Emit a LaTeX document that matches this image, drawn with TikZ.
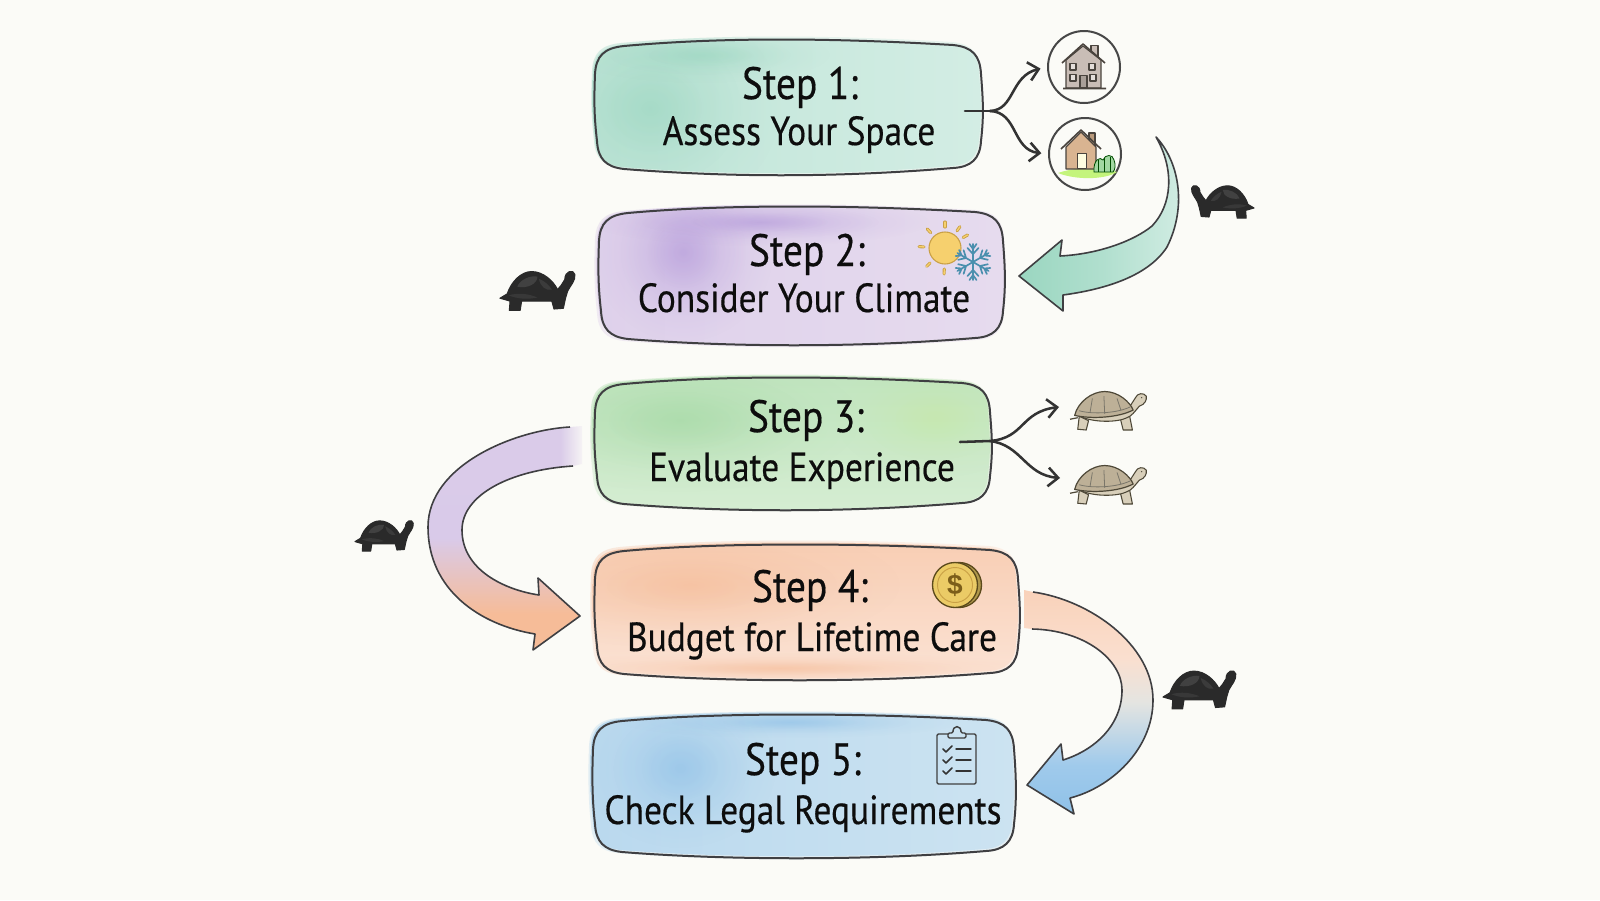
\documentclass[tikz,border=0pt]{standalone}
\usepackage{fontspec}
\usetikzlibrary{arrows.meta,fadings,calc}
\newfontfamily\handfont[FakeStretch=0.87,FakeBold=0.4]{PT Sans}
\definecolor{paper}{HTML}{FBFBF7}
\definecolor{inkline}{HTML}{3F3F42}
\definecolor{tealbase}{HTML}{D3EDE4}
\definecolor{tealdeep}{HTML}{9AD6C0}
\definecolor{plumbase}{HTML}{E6DBEE}
\definecolor{plumdeep}{HTML}{B297DA}
\definecolor{leafbase}{HTML}{D5EDD2}
\definecolor{leafdeep}{HTML}{A2D8A2}
\definecolor{limedeep}{HTML}{C6E8A8}
\definecolor{peachbase}{HTML}{FBE3D5}
\definecolor{peachdeep}{HTML}{F6BC98}
\definecolor{skybase}{HTML}{CCE3F1}
\definecolor{skydeep}{HTML}{8FC1E8}
\definecolor{shelldark}{HTML}{2A2A2A}
\definecolor{shellhi}{HTML}{4A4A4A}
\definecolor{shelltan}{HTML}{BDB097}
\definecolor{skintan}{HTML}{D8CFBA}
\definecolor{tanline}{HTML}{4E4838}
\definecolor{snowblue}{HTML}{4A8FAE}
\definecolor{sunfill}{HTML}{F6D06E}
\definecolor{sunedge}{HTML}{C9A045}
\definecolor{coinface}{HTML}{EBCB66}
\definecolor{coinedge}{HTML}{5B4A1C}
\definecolor{coinmark}{HTML}{7C5E1A}
\definecolor{wallgrey}{HTML}{C9BDB6}
\definecolor{wallbrown}{HTML}{D9B491}
\definecolor{iconink}{HTML}{4A443E}
\tikzfading[name=softblot,inner color=transparent!0,outer color=transparent!100]
% A soft patch of pigment: three nested radial washes around one centre
\newcommand{\pigment}[5]{%
  \fill[#1,opacity=.3,path fading=softblot] (#2,#3) ellipse ({2*#4} and {2*#5});
  \fill[#1,opacity=.3,path fading=softblot] (#2,#3) ellipse ({1.4*#4} and {1.4*#5});
  \fill[#1,opacity=.3,path fading=softblot] (#2,#3) ellipse ({.8*#4} and {.8*#5});
}
\pgfdeclareverticalshading{plumtopeach}{100bp}{
  color(0bp)=(peachdeep); color(25bp)=(peachdeep); color(33bp)=(peachdeep);
  color(50bp)=(plumbase!75!plumdeep); color(100bp)=(plumbase!80!plumdeep)}
\pgfdeclareverticalshading{peachtosky}{100bp}{
  color(0bp)=(skydeep); color(25bp)=(skydeep); color(36bp)=(skydeep!85!white);
  color(50bp)=(black!9!paper); color(60bp)=(peachbase!90!peachdeep);
  color(75bp)=(peachdeep!45!peachbase); color(100bp)=(peachdeep)}
\tikzset{
  wobble/.style n args={4}{insert path={
    ({#1+30},{#2+6}) .. controls ({#1+130},{#2-3}) and ({#3-150},{#2-2}) .. ({#3-30},{#2+5})
    .. controls ({#3-10},{#2+7}) and ({#3-3},{#2+16}) .. ({#3-2},{#2+34})
    .. controls ({#3},{#2+60}) and ({#3+1},{#4-60}) .. ({#3-2},{#4-34})
    .. controls ({#3-3},{#4-16}) and ({#3-12},{#4-8}) .. ({#3-30},{#4-7})
    .. controls ({#3-150},{#4+3}) and ({#1+130},{#4+2}) .. ({#1+30},{#4-6})
    .. controls ({#1+12},{#4-8}) and ({#1+4},{#4-16}) .. ({#1+3},{#4-34})
    .. controls ({#1},{#4-60}) and ({#1},{#2+60}) .. ({#1+1},{#2+34})
    .. controls ({#1+2},{#2+16}) and ({#1+10},{#2+8}) .. ({#1+30},{#2+6}) -- cycle}},
  cardline/.style={draw=inkline,line width=1.5pt,line join=round},
  bigline/.style={draw=inkline,line width=1.2pt,line join=round},
  thinarrow/.style={draw=black!80,line width=1.9pt,line cap=round,
    -{Straight Barb[length=7.5pt,width=14pt,line width=1.9pt]}},
  thinstem/.style={draw=black!80,line width=1.9pt,line cap=round},
  titletext/.style={anchor=base,font=\handfont\fontsize{34}{34}\selectfont,text=black!95},
  subtext/.style={anchor=base,font=\handfont\fontsize{30.5}{30}\selectfont,text=black!95},
  iconring/.style={circle,draw=black!72,line width=1.5pt,inner sep=0pt,minimum size=54pt},
  iconline/.style={draw=iconink,line width=.9pt,line join=round},
  snowline/.style={draw=snowblue,line width=1.25pt,line cap=round},
  darktortoise/.pic={
    \filldraw[shelldark,line width=.8pt,line join=round]
      (-50,10) -- (-40,4) .. controls (-34,-14) and (-20,-27) .. (-6,-27)
      .. controls (10,-27) and (24,-14) .. (30,-2) -- (35,-8) -- (40,-16)
      .. controls (40,-28) and (52,-31) .. (54,-23) .. controls (55,-14) and (48,-8) .. (44,0)
      -- (41,10) -- (38,24) -- (25,25) -- (22,14) -- (-20,14) -- (-22,27) -- (-37,27) -- (-36,14) -- cycle;
    \fill[shellhi,opacity=.75] (-26,-6) .. controls (-22,-16) and (-8,-22) .. (2,-20)
      .. controls (2,-10) and (-12,-3) .. (-26,-6) -- cycle;
    \fill[shellhi,opacity=.55] (4,-17) .. controls (12,-14) and (18,-8) .. (22,-2) .. controls (14,0) and (6,-6) .. (4,-17) -- cycle;
    \fill[shellhi,opacity=.45] (-38,6) .. controls (-24,2) and (-10,4) .. (2,9) .. controls (-12,12) and (-26,11) .. (-38,6) -- cycle;
  },
  tantortoise/.pic={
    \draw[tanline,line width=.9pt] (-38,10) -- (-48,12);
    \filldraw[fill=skintan,draw=tanline,line width=.8pt,line join=round] (-36,8) -- (-38,25) -- (-27,26) -- (-24,14) -- cycle;
    \filldraw[fill=skintan,draw=tanline,line width=.8pt,line join=round] (17,10) -- (21,26) -- (33,26) -- (29,6) -- cycle;
    \filldraw[fill=skintan,draw=tanline,line width=.8pt,line join=round] (-36,8) .. controls (-16,17) and (14,16) .. (26,10)
      .. controls (32,8) and (36,2) .. (42,-5) .. controls (49,-7) and (52,-13) .. (51,-18)
      .. controls (48,-23) and (39,-22) .. (37,-16) -- (28,-2) -- cycle;
    \filldraw[fill=shelltan,draw=tanline,line width=.9pt,line join=round] (-42,7) .. controls (-38,-10) and (-20,-24) .. (-3,-24)
      .. controls (15,-24) and (30,-10) .. (34,0) .. controls (15,10) and (-20,12) .. (-42,7) -- cycle;
    \draw[tanline!75,line width=.6pt] (-36,1) .. controls (-18,6) and (14,4) .. (30,-4)
      (-19,-15) -- (-22,3) (-4,-18) -- (-3,5) (13,-15) -- (18,0);
    \fill[tanline] (45,-16) circle (.9);
  }
}
\begin{document}
\begin{tikzpicture}[x=.75pt,y=-.75pt]
\useasboundingbox (0,0) rectangle (1600,900);
\fill[paper] (0,0) rectangle (1600,900);

% Step 1 card
\fill[tealbase,opacity=.5,wobble={591}{37}{982}{174}];
\shade[left color=tealdeep!35!tealbase,right color=tealbase,wobble={592}{39}{981}{173}];
\begin{scope}
  \clip[wobble={591}{37}{982}{174}];
  \pigment{tealdeep}{650}{108}{65}{55}
  \pigment{tealdeep}{700}{55}{65}{14}
\end{scope}
\draw[cardline,wobble={594}{40}{983}{175}];
% Step 2 card
\fill[plumbase,opacity=.5,wobble={594}{205}{1006}{347}];
\shade[left color=plumdeep!15!plumbase,right color=plumbase,wobble={596}{206}{1004}{344}];
\begin{scope}
  \clip[wobble={594}{205}{1006}{347}];
  \pigment{plumdeep}{683}{252}{45}{45}
  \pigment{plumdeep}{760}{222}{85}{12}
\end{scope}
\draw[cardline,wobble={598}{207}{1005}{345}];
% Step 3 card
\fill[leafbase,opacity=.5,wobble={590}{375}{991}{511}];
\shade[top color=leafdeep!40!leafbase,bottom color=leafbase,wobble={592}{376}{990}{509}];
\begin{scope}
  \clip[wobble={590}{375}{991}{511}];
  \pigment{leafdeep}{680}{420}{90}{36}
  \pigment{limedeep}{935}{418}{50}{30}
\end{scope}
\draw[cardline,wobble={594}{378}{992}{510}];
% Step 4 card
\fill[peachbase,opacity=.5,wobble={590}{541}{1019}{681}];
\shade[top color=peachdeep!55!peachbase,bottom color=peachbase,wobble={592}{543}{1018}{678}];
\begin{scope}
  \clip[wobble={590}{541}{1019}{681}];
  \pigment{peachdeep}{690}{585}{105}{32}
  \pigment{peachdeep}{780}{668}{130}{8}
\end{scope}
\draw[cardline,wobble={594}{545}{1020}{680}];
% Step 5 card
\fill[skybase,opacity=.5,wobble={588}{712}{1015}{859}];
\shade[left color=skydeep!30!skybase,right color=skybase,wobble={590}{713}{1014}{856}];
\begin{scope}
  \clip[wobble={588}{712}{1015}{859}];
  \pigment{skydeep}{680}{768}{48}{40}
  \pigment{skydeep}{790}{722}{85}{8}
\end{scope}
\draw[cardline,wobble={592}{715}{1016}{858}];

% Card captions
\node[titletext] (s1t) at (800,99) {Step 1:};
\node[subtext]   (s1b) at (799,145) {Assess Your Space};
\node[titletext] (s2t) at (807,266) {Step 2:};
\node[subtext]   (s2b) at (804,312) {Consider Your Climate};
\node[titletext] (s3t) at (806,432) {Step 3:};
\node[subtext]   (s3b) at (802,481) {Evaluate Experience};
\node[titletext] (s4t) at (810,602) {Step 4:};
\node[subtext]   (s4b) at (812,651) {Budget for Lifetime Care};
\node[titletext] (s5t) at (803,775) {Step 5:};
\node[subtext]   (s5b) at (803,824) {Check Legal Requirements};

% Sun and snowflake
\foreach \a in {-90,-55,-30,183,-133,135,92}{
  \draw[draw=sunedge,line width=2.3pt,line cap=round]
    ({945+21*cos(\a)},{248+21*sin(\a)}) -- ({945+26*cos(\a)},{248+26*sin(\a)});
  \draw[draw=sunfill,line width=1pt,line cap=round]
    ({945+21*cos(\a)},{248+21*sin(\a)}) -- ({945+26*cos(\a)},{248+26*sin(\a)});
}
\filldraw[fill=sunfill,draw=sunedge,line width=.8pt] (945,248) circle (16);
\begin{scope}[shift={(973,262)}]
  \fill[plumbase,opacity=.8] (0,0) circle (14);
  \foreach \a in {0,60,...,300}{
    \draw[snowline,rotate=\a+30] (0,0) -- (18,0) (8,0) -- (14,5.5) (8,0) -- (14,-5.5) (13,0) -- (18,3.5) (13,0) -- (18,-3.5);
  }
\end{scope}

% Coin
\filldraw[fill=coinface!75!black,draw=coinedge,line width=1pt] (959,585) circle (22.5);
\filldraw[fill=coinface,draw=coinedge,line width=1pt] (955,585) circle (22.5);
\draw[sunedge,line width=.7pt] (955,585) circle (17.5);
\node[font=\fontspec{Liberation Sans}\fontsize{21}{21}\selectfont\bfseries,text=coinmark] (dollar) at (955,585) {\$};

% Clipboard
\draw[black!75,line width=1.1pt,rounded corners=1pt] (937,734) rectangle (976,784);
\filldraw[fill=skybase,draw=black!75,line width=1.1pt,rounded corners=1pt] (948,738) -- (948,733) -- (953,733)
  .. controls (953,725) and (961,725) .. (961,733) -- (966,733) -- (966,738) -- cycle;
\foreach \yy in {749,760,771}{
  \draw[black!80,line width=1.1pt,line cap=round,line join=round] (943,\yy) -- (946,{\yy+3}) -- (952,{\yy-3});
  \draw[black!80,line width=1.1pt,line cap=round] (956,\yy) -- (971,\yy);
}

% House icons
\node[iconring] (house1) at (1084,67) {};
\node[iconring] (house2) at (1085,154) {};
\filldraw[fill=wallgrey,iconline] (1091,45.5) rectangle (1098,60);
\filldraw[fill=wallgrey,iconline] (1066,60) -- (1083,46) -- (1101,60) -- (1101,88) -- (1066,88) -- cycle;
\draw[iconline,line width=1.2pt] (1062,63) -- (1083,44) -- (1105,63) (1063,88.5) -- (1106,88.5);
\filldraw[fill=wallgrey!50!white,iconline] (1070,63.5) rectangle (1076,70) (1089,63.5) rectangle (1095,70)
  (1070,74.5) rectangle (1076,81) (1090,74.5) rectangle (1096,81);
\filldraw[fill=wallgrey!75!iconink,iconline] (1080,88) -- (1080,75.5) -- (1087,75.5) -- (1087,88) -- cycle;

\fill[leafdeep!70!green!60!yellow!70!white] (1058,173) .. controls (1075,167) and (1100,167) .. (1117,172)
  .. controls (1105,180) and (1075,180) .. (1058,173) -- cycle;
\filldraw[fill=wallbrown!85!black,iconline] (1089,133) rectangle (1095,146);
\filldraw[fill=wallbrown,iconline] (1066,147) -- (1081,132) -- (1096,147) -- (1096,169) -- (1066,169) -- cycle;
\draw[iconline,line width=1.2pt] (1061,149) -- (1081,130) -- (1101,149);
\filldraw[fill=yellow!12!white,iconline] (1077.5,168.5) -- (1077.5,153.5) -- (1086.5,153.5) -- (1086.5,168.5) -- cycle;
\filldraw[fill=leafdeep,draw=green!30!black,line width=.6pt]
  (1094,172) .. controls (1093,160) and (1100,156) .. (1103,160) .. controls (1105,154) and (1113,154) .. (1114,160)
  .. controls (1116,165) and (1115,170) .. (1113,172) -- cycle;
\draw[green!30!black,line width=.5pt] (1098,160) -- (1098,172) (1104,158) -- (1104,172) (1110,157) -- (1110,172);

% Branching connectors
\coordinate (fork1) at (965,111);
\coordinate (split1) at (990,111);
\draw[thinstem] (fork1) -- (split1);
\draw[thinarrow,shorten >=5pt] (split1) .. controls (1015,110) and (1010,76) .. (house1.west);
\draw[thinarrow,shorten >=5pt] (split1) .. controls (1018,112) and (1012,150) .. (house2.west);
\coordinate (fork3) at (960,442);
\coordinate (split3) at (990,441);
\coordinate (tanA) at (1059,407);
\coordinate (tanB) at (1060,478);
\draw[thinstem] (fork3) -- (split3);
\draw[thinarrow] (split3) .. controls (1025,438) and (1020,412) .. (tanA);
\draw[thinarrow] (split3) .. controls (1022,445) and (1025,475) .. (tanB);

% Tortoises
\pic[scale=.77] at (1107,410) {tantortoise};
\pic[scale=.77] at (1107,484) {tantortoise};
\pic[xscale=-.6,yscale=.6] at (1224,202) {darktortoise};
\pic[scale=.72] at (536,291) {darktortoise};
\pic[scale=.56] at (383,536) {darktortoise};
\pic[scale=.7] at (1198,690) {darktortoise};

% Sweeping arrow from the house icons to step 2
\shade[left color=tealdeep,right color=tealbase,middle color=tealdeep!60!tealbase]
  (1156,137) .. controls (1178,160) and (1188,205) .. (1167,247)
  .. controls (1147,278) and (1100,290) .. (1063,295) -- (1063,311) -- (1019,276) -- (1062,240) -- (1060,256)
  .. controls (1100,254) and (1135,240) .. (1152,226) .. controls (1172,205) and (1175,170) .. (1156,137) -- cycle;
\draw[bigline]
  (1156,137) .. controls (1178,160) and (1188,205) .. (1167,247)
  .. controls (1147,278) and (1100,290) .. (1063,295) -- (1063,311) -- (1019,276) -- (1062,240) -- (1060,256)
  .. controls (1100,254) and (1135,240) .. (1152,226) .. controls (1172,205) and (1175,170) .. (1156,137) -- cycle;

% Sweeping arrow from step 3 to step 4
\shade[shading=plumtopeach]
  (582,426) -- (570,427) .. controls (515,430) and (428,465) .. (428,527)
  .. controls (428,590) and (480,625) .. (535,634) -- (533,650) -- (580,616) -- (538,578) -- (539,595)
  .. controls (505,590) and (462,570) .. (462,530) .. controls (462,495) and (510,470) .. (573,466) -- (582,464) -- cycle;
\fill[paper,path fading=west] (560,420) rectangle (586,472);
\draw[bigline]
  (570,427) .. controls (515,430) and (428,465) .. (428,527)
  .. controls (428,590) and (480,625) .. (535,634) -- (533,650) -- (580,616) -- (538,578) -- (539,595)
  .. controls (505,590) and (462,570) .. (462,530) .. controls (462,495) and (510,470) .. (573,466);

% Sweeping arrow from step 4 to step 5
\shade[shading=peachtosky]
  (1024,590) -- (1033,592) .. controls (1090,600) and (1153,645) .. (1153,700)
  .. controls (1153,750) and (1110,788) .. (1070,798) -- (1074,814) -- (1027,785) -- (1061,744) -- (1063,760)
  .. controls (1095,750) and (1122,725) .. (1122,690) .. controls (1122,660) and (1085,630) .. (1032,629) -- (1024,628) -- cycle;
\draw[bigline]
  (1033,592) .. controls (1090,600) and (1153,645) .. (1153,700)
  .. controls (1153,750) and (1110,788) .. (1070,798) -- (1074,814) -- (1027,785) -- (1061,744) -- (1063,760)
  .. controls (1095,750) and (1122,725) .. (1122,690) .. controls (1122,660) and (1085,630) .. (1032,629);
\end{tikzpicture}
\end{document}
